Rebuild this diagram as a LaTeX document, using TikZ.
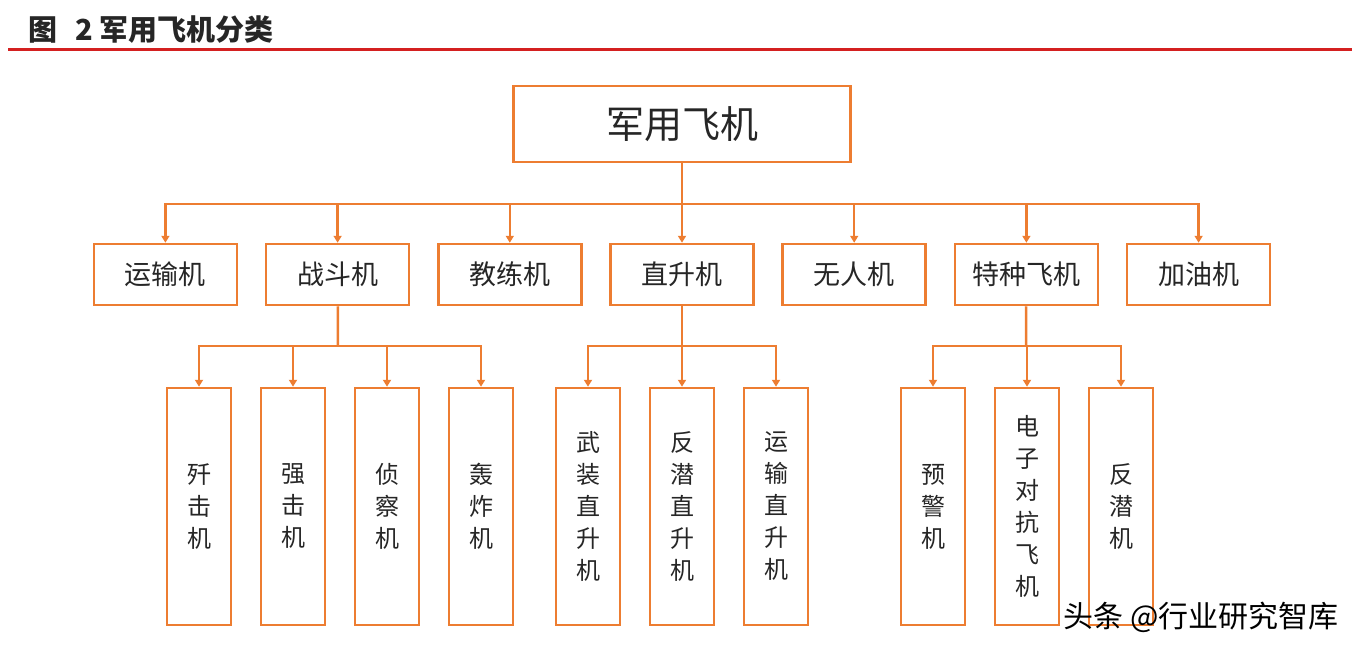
\documentclass[tikz,border=0pt]{standalone}
\usepackage{fontspec}
\usepackage{xcolor}
\usepackage{tikz}
\usetikzlibrary{arrows.meta, positioning}
\newfontfamily\cjk{Noto Sans CJK SC}
\definecolor{planeorange}{HTML}{ED7D31}
\definecolor{titlered}{HTML}{D42020}

\begin{document}
\begin{tikzpicture}[x=1pt, y=-1pt, line width=2.5pt, text=black!85,
  root node/.style={rectangle, draw=planeorange, minimum width=337pt, minimum height=76pt,
    font=\cjk\fontsize{38}{42}\selectfont},
  kind node/.style={rectangle, draw=planeorange, minimum width=143pt, minimum height=61pt,
    font=\cjk\fontsize{27}{30}\selectfont},
  sub node/.style={rectangle, draw=planeorange, minimum width=64pt, minimum height=237pt,
    align=center, font=\cjk\fontsize{24}{32}\selectfont},
  link/.style={draw=planeorange, -{Triangle[length=7pt,width=8pt]}}]

  \useasboundingbox (0,0) rectangle (1360,654);

  % title
  \node[anchor=west, inner sep=0pt, font=\cjk\bfseries\fontsize{29}{32}\selectfont] (title) at (27,30) {图\hspace{18pt}2 军用飞机分类};
  \draw[titlered, line width=3pt] (8,49) -- (1352,49);

  % root
  \node[root node] (plane) at (682,124) {军用飞机};

  % first level
  \node[kind node] (heli) at (682,274.5) {直升机};
  \begin{scope}[node distance=172.2pt]
    \node[kind node] (trainer) [left of=heli] {教练机};
    \node[kind node] (fighter) [left of=trainer] {战斗机};
    \node[kind node] (cargo) [left of=fighter] {运输机};
    \node[kind node] (uav) [right of=heli] {无人机};
    \node[kind node] (special) [right of=uav] {特种飞机};
    \node[kind node] (tanker) [right of=special] {加油机};
  \end{scope}

  % second level
  \begin{scope}[node distance=94pt]
    \node[sub node] (jian) at (199,506.5) {歼\\击\\机};
    \node[sub node] (qiang) [right of=jian] {强\\击\\机};
    \node[sub node] (zhen) [right of=qiang] {侦\\察\\机};
    \node[sub node] (hong) [right of=zhen] {轰\\炸\\机};

    \node[sub node] (wuzhuang) at (588,506.5) {武\\装\\直\\升\\机};
    \node[sub node] (fanqian) [right of=wuzhuang] {反\\潜\\直\\升\\机};
    \node[sub node] (yunshu) [right of=fanqian] {运\\输\\直\\升\\机};

    \node[sub node] (yujing) at (933,506.5) {预\\警\\机};
    \node[sub node] (dianzi) [right of=yujing] {电\\子\\对\\抗\\飞\\机};
    \node[sub node] (fanqianji) [right of=dianzi] {反\\潜\\机};
  \end{scope}

  % connectors
  \coordinate (busA) at (682,204);
  \coordinate (busB) at (338,346);
  \coordinate (busC) at (682,346);
  \coordinate (busD) at (1026,346);
  \draw[planeorange] (plane) -- (busA);
  \foreach \n in {cargo, fighter, trainer, heli, uav, special, tanker}
    \draw[link] (busA) -| (\n.north);
  \draw[planeorange] (fighter) -- (busB);
  \foreach \n in {jian, qiang, zhen, hong}
    \draw[link] (busB) -| (\n.north);
  \draw[planeorange] (heli) -- (busC);
  \foreach \n in {wuzhuang, fanqian, yunshu}
    \draw[link] (busC) -| (\n.north);
  \draw[planeorange] (special) -- (busD);
  \foreach \n in {yujing, dianzi, fanqianji}
    \draw[link] (busD) -| (\n.north);

  % watermark
  \node[anchor=east, inner sep=0pt, text=black, font=\cjk\fontsize{30}{32}\selectfont] (mark) at (1340,617) {头条 @行业研究智库};
\end{tikzpicture}
\end{document}
